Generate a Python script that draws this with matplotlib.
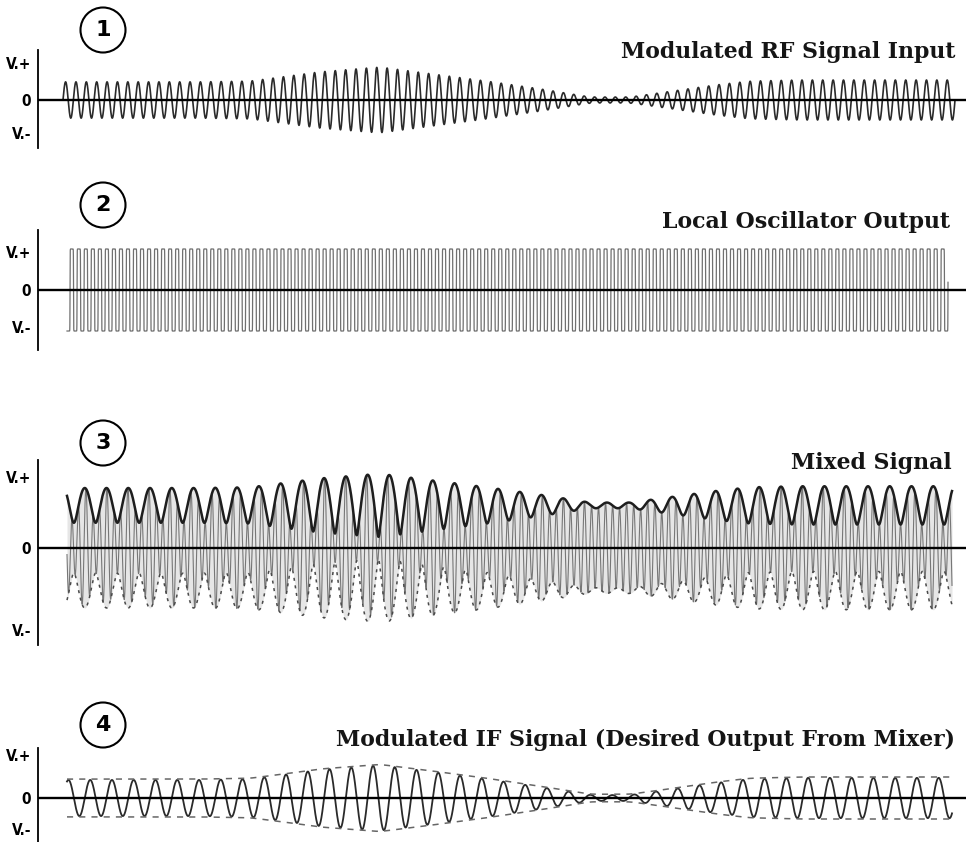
import numpy as np
import matplotlib.pyplot as plt
from matplotlib.patches import Circle

# carrier cycles across the drawn trace
rf_cycles = 86
lo_cycles = 127
if_cycles = lo_cycles - rf_cycles

# envelope: position along trace (0..1) and amplitude (V units)
env_t = [0.0, 0.154, 0.21, 0.254, 0.288, 0.355, 0.415, 0.475, 0.535, 0.591,
         0.636, 0.677, 0.733, 0.77, 0.826, 1.0]
rf_env = [0.49, 0.49, 0.51, 0.65, 0.76, 0.89, 0.70, 0.51, 0.30, 0.08,
          0.08, 0.22, 0.41, 0.51, 0.54, 0.54]
if_env = [0.43, 0.43, 0.45, 0.57, 0.67, 0.78, 0.62, 0.45, 0.26, 0.07,
          0.07, 0.19, 0.36, 0.45, 0.48, 0.48]
lo_amp = 1.08
mix_lo_level = 0.6
mix_rf_gain = 0.5

titles = ["Modulated RF Signal Input", "Local Oscillator Output", "Mixed Signal",
          "Modulated IF Signal (Desired Output From Mixer)"]
numbers = ["1", "2", "3", "4"]
tick_labels = ["V.+", "0", "V.-"]

W, H = 972, 842
fig = plt.figure(figsize=(W / 100, H / 100), dpi=100)
fig.patch.set_facecolor("white")

X0, X1 = 38, 966          # axes left/right in px
T0, T1 = 63, 955          # trace start/end in px
scale = T1 - T0

# panel layout in px: axis top, axis bottom, zero line, px per volt, V+ y, V- y,
# circle centre y, title centre y, title right x
layout = [
    (50, 148, 100, 37, 63, 133, 30, 52, 955),
    (230, 350, 290, 38, 252, 327, 205, 222, 950),
    (460, 645, 548, 71, 477, 630, 443, 463, 952),
    (748, 842, 798, 42, 755, 829, 725, 740, 955),
]
spans = [(63, 955), (67, 948), (67, 952), (67, 952)]

serif = "DejaVu Serif"
narrow = ["Liberation Sans Narrow", "DejaVu Sans"]


def smooth_env(t, vals):
    e = np.interp(t, env_t, vals)
    k = np.exp(-0.5 * (np.arange(-300, 301) / 110.0) ** 2)
    k /= k.sum()
    pad = np.pad(e, 300, mode="edge")
    return np.convolve(pad, k, mode="valid")


axes = []
for i, (top, bot, zero, unit, yp, ym, cy, ty, tx) in enumerate(layout):
    ax = fig.add_axes([X0 / W, 1 - bot / H, (X1 - X0) / W, (bot - top) / H])
    ax.set_xlim((X0 - T0) / scale, (X1 - T0) / scale)
    ax.set_ylim(-(bot - zero) / unit, (zero - top) / unit)
    for s in ["top", "right", "bottom"]:
        ax.spines[s].set_visible(False)
    ax.spines["left"].set_linewidth(1.3)
    ax.set_xticks([])
    ax.set_yticks([(zero - yp) / unit, 0, (zero - ym) / unit], tick_labels)
    ax.tick_params(axis="y", length=0, pad=5)
    for lab in ax.get_yticklabels():
        lab.set_family(narrow)
        lab.set_fontweight("bold")
        lab.set_fontsize(11)
        lab.set_stretch("condensed")
    ax.axhline(0, color="black", lw=1.7, zorder=5)
    axes.append(ax)

    # numbered circle
    fig.add_artist(Circle((103 / 100, (H - cy) / 100), 0.225, transform=fig.dpi_scale_trans,
                          fill=False, ec="black", lw=1.5))
    fig.text(103 / W, 1 - cy / H, numbers[i], ha="center", va="center", fontsize=16,
             fontweight="bold", family=narrow)
    fig.text(tx / W, 1 - ty / H, titles[i], ha="right", va="center", fontsize=15.8,
             fontweight="bold", family=serif, color="#151515")

n = 24000

# 1: modulated RF
a0, a1 = [(s - T0) / scale for s in spans[0]]
t = np.linspace(a0, a1, n)
env = smooth_env(t, rf_env)
axes[0].plot(t, env * np.sin(2 * np.pi * rf_cycles * t), color="#2a2a2a", lw=1.2)

# 2: local oscillator (near square)
a0, a1 = [(s - T0) / scale for s in spans[1]]
t = np.linspace(a0, a1, n * 2)
lo = lo_amp * np.tanh(9 * np.sin(2 * np.pi * lo_cycles * t))
axes[1].plot(t, lo, color="#707070", lw=0.9)

# 3: mixed signal = LO + RF
a0, a1 = [(s - T0) / scale for s in spans[2]]
t = np.linspace(a0, a1, n * 2)
env = smooth_env(t, rf_env)
mix = mix_lo_level * np.sin(2 * np.pi * lo_cycles * t) + \
    mix_rf_gain * env * np.sin(2 * np.pi * rf_cycles * t)
top_env = np.abs(mix_lo_level + mix_rf_gain * env * np.exp(1j * 2 * np.pi * if_cycles * t))
axes[2].fill_between(t, -top_env, top_env, color="#e6e6e6", lw=0)
axes[2].plot(t, mix, color="#777777", lw=0.8)
axes[2].plot(t, top_env, color="#1e1e1e", lw=1.8)
axes[2].plot(t, -top_env, color="#4a4a4a", lw=1.1, ls=(0, (2, 3)))

# 4: modulated IF with dashed envelope
a0, a1 = [(s - T0) / scale for s in spans[3]]
t = np.linspace(a0, a1, n)
env = smooth_env(t, if_env)
axes[3].plot(t, env * np.sin(2 * np.pi * if_cycles * t), color="#2a2a2a", lw=1.3)
axes[3].plot(t, env + 0.02, color="#666666", lw=1.1, ls=(0, (4, 4)))
axes[3].plot(t, -env - 0.02, color="#666666", lw=1.1, ls=(0, (4, 4)))

fig.savefig("out.png", dpi=100, facecolor="white")
